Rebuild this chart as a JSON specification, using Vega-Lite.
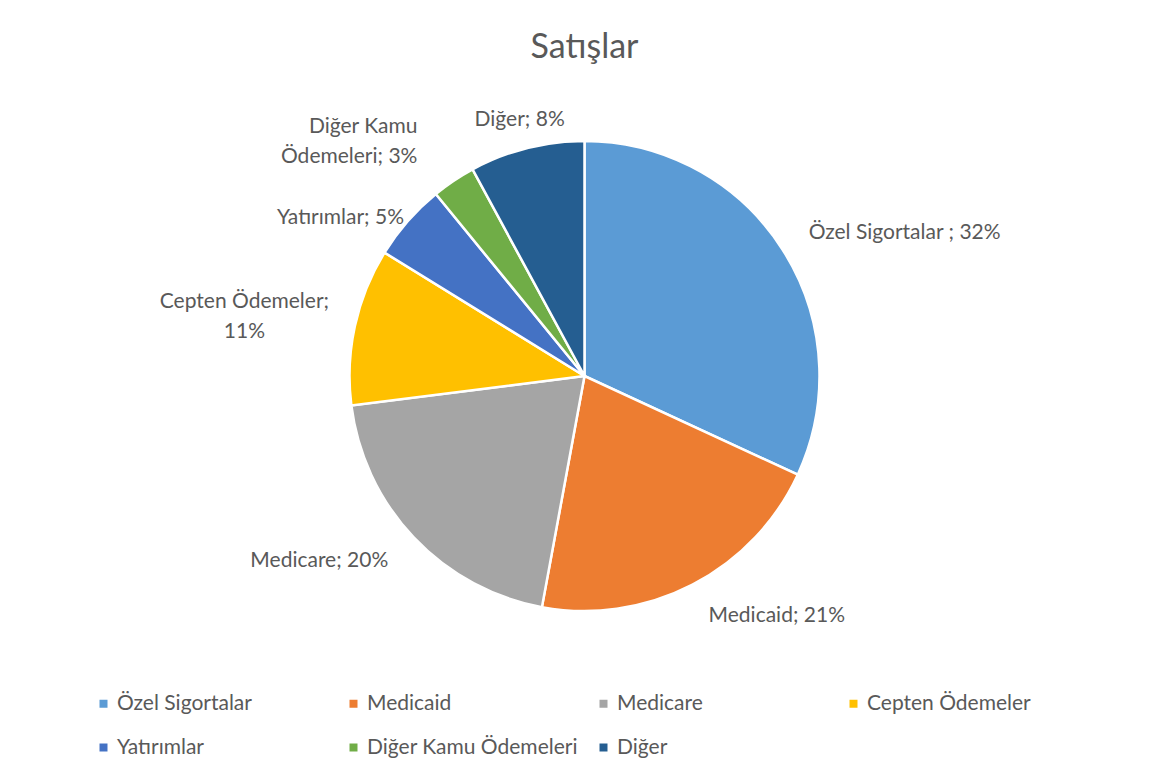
{
  "$schema": "https://vega.github.io/schema/vega-lite/v6.json",
  "width": 1141,
  "height": 752,
  "autosize": "none",
  "padding": {"top": 0, "bottom": 31, "left": 14, "right": 0},
  "background": "white",
  "title": {"text": "Satışlar", "fontSize": 34, "font": "Lato", "fontWeight": "normal", "color": "#595959", "orient": "top", "anchor": "middle", "baseline": "alphabetic", "offset": -92},
  "data": {
    "values": [
      {"cat": "Özel Sigortalar", "value": 31.9, "idx": 1, "label": "Özel Sigortalar ; 32%"},
      {"cat": "Medicaid", "value": 21.0, "idx": 2, "label": "Medicaid; 21%"},
      {"cat": "Medicare", "value": 20.1, "idx": 3, "label": "Medicare; 20%"},
      {"cat": "Cepten Ödemeler", "value": 10.8, "idx": 4, "label": "Cepten Ödemeler;\n11%"},
      {"cat": "Yatırımlar", "value": 5.3, "idx": 5, "label": "Yatırımlar; 5%"},
      {"cat": "Diğer Kamu Ödemeleri", "value": 3.0, "idx": 6, "label": "Diğer Kamu\nÖdemeleri; 3%"},
      {"cat": "Diğer", "value": 7.9, "idx": 7, "label": "Diğer; 8%"}
    ]
  },
  "encoding": {
    "theta": {"field": "value", "type": "quantitative", "stack": true},
    "order": {"field": "idx", "type": "quantitative"},
    "detail": {"field": "cat", "type": "nominal"}
  },
  "layer": [
    {
      "mark": {"type": "arc", "outerRadius": 235, "stroke": "white", "strokeWidth": 2.5},
      "encoding": {
        "color": {
          "field": "cat",
          "type": "nominal",
          "scale": {
            "domain": ["Özel Sigortalar", "Medicaid", "Medicare", "Cepten Ödemeler", "Yatırımlar", "Diğer Kamu Ödemeleri", "Diğer"],
            "range": ["#5B9BD5", "#ED7D31", "#A5A5A5", "#FFC000", "#4472C4", "#70AD47", "#255E91"]
          },
          "legend": {
            "title": null,
            "orient": "none",
            "legendX": 79,
            "legendY": 693,
            "direction": "horizontal",
            "columns": 4,
            "symbolType": "square",
            "symbolSize": 64,
            "symbolStrokeWidth": 0,
            "labelFont": "Lato",
            "labelFontSize": 21,
            "labelColor": "#595959",
            "labelOffset": 3,
            "columnPadding": 15,
            "rowPadding": 22,
            "gridAlign": "all",
            "padding": 0,
            "labelLimit": 400
          }
        }
      }
    },
    {
      "mark": {"type": "text", "radius": 266, "align": "left", "baseline": "middle", "font": "Lato", "fontSize": 21, "color": "#595959"},
      "encoding": {"text": {"condition": {"test": "datum.cat === 'Özel Sigortalar'", "field": "label"}, "value": ""}}
    },
    {
      "mark": {"type": "text", "radius": 270, "align": "left", "baseline": "middle", "font": "Lato", "fontSize": 21, "color": "#595959"},
      "encoding": {"text": {"condition": {"test": "datum.cat === 'Medicaid'", "field": "label"}, "value": ""}}
    },
    {
      "mark": {"type": "text", "radius": 270, "align": "right", "baseline": "middle", "font": "Lato", "fontSize": 21, "color": "#595959"},
      "encoding": {"text": {"condition": {"test": "datum.cat === 'Medicare'", "field": "label"}, "value": ""}}
    },
    {
      "mark": {"type": "text", "radius": 240, "align": "right", "baseline": "middle", "font": "Lato", "fontSize": 21, "color": "#595959"},
      "encoding": {"text": {"condition": {"test": "datum.cat === 'Yatırımlar'", "field": "label"}, "value": ""}}
    },
    {
      "mark": {"type": "text", "radius": 348, "align": "center", "baseline": "middle", "lineBreak": "\n", "lineHeight": 30, "font": "Lato", "fontSize": 21, "color": "#595959"},
      "encoding": {"text": {"condition": {"test": "datum.cat === 'Cepten Ödemeler'", "field": "label"}, "value": ""}}
    },
    {
      "mark": {"type": "text", "radius": 300, "align": "right", "baseline": "middle", "lineBreak": "\n", "lineHeight": 30, "font": "Lato", "fontSize": 21, "color": "#595959"},
      "encoding": {"text": {"condition": {"test": "datum.cat === 'Diğer Kamu Ödemeleri'", "field": "label"}, "value": ""}}
    },
    {
      "mark": {"type": "text", "radius": 264, "align": "center", "baseline": "middle", "font": "Lato", "fontSize": 21, "color": "#595959"},
      "encoding": {"text": {"condition": {"test": "datum.cat === 'Diğer'", "field": "label"}, "value": ""}}
    }
  ],
  "config": {"view": {"stroke": null}}
}
